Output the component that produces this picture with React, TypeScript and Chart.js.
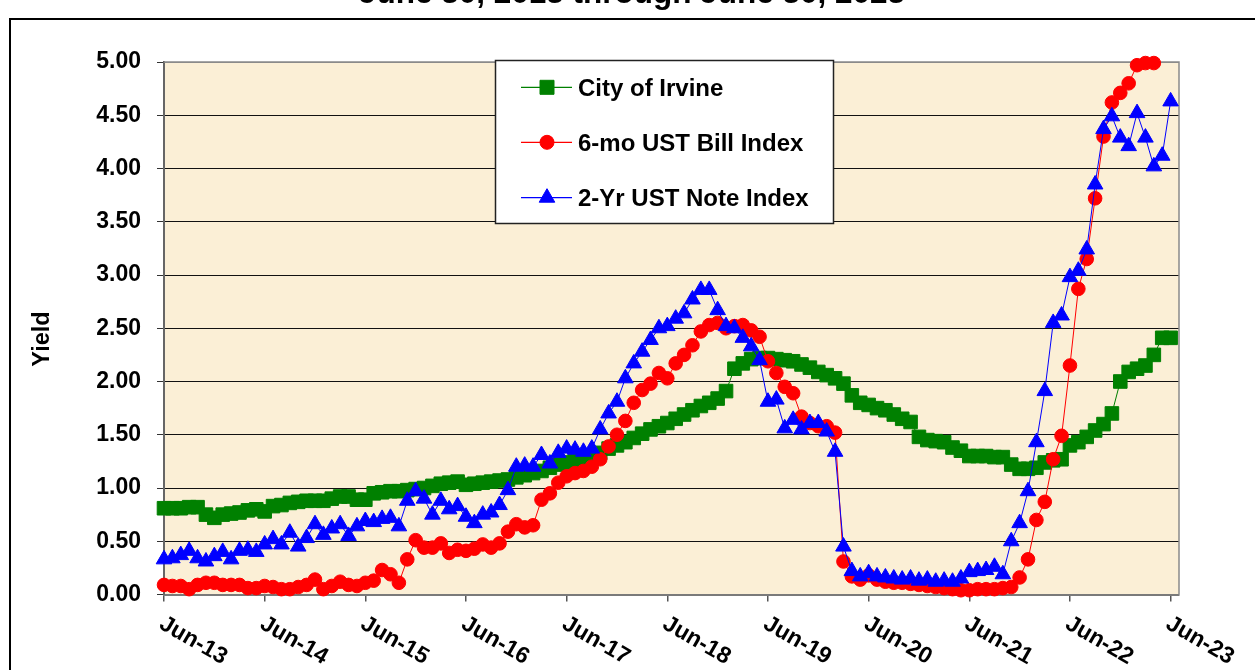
import React, { useEffect, useRef } from 'react';
import { Chart, registerables } from 'chart.js';

Chart.register(...registerables);

const titleText = 'June 30, 2013 through June 30, 2023';
const yAxisTitle = 'Yield';
const seriesNames = ['City of Irvine', '6-mo UST Bill Index', '2-Yr UST Note Index'];
const tickLabels = ['Jun-13', 'Jun-14', 'Jun-15', 'Jun-16', 'Jun-17', 'Jun-18', 'Jun-19', 'Jun-20', 'Jun-21', 'Jun-22', 'Jun-23'];

// monthly values, Jun-13 .. Jun-23 (121 months)
const cityOfIrvine = [
  0.81, 0.81, 0.81, 0.82, 0.82, 0.75, 0.72, 0.75, 0.76, 0.77, 0.79, 0.80,
  0.78, 0.83, 0.84, 0.86, 0.87, 0.88, 0.88, 0.88, 0.90, 0.92, 0.92, 0.89,
  0.89, 0.95, 0.96, 0.97, 0.97, 0.98, 0.99, 1.00, 1.02, 1.04, 1.05, 1.06,
  1.03, 1.04, 1.05, 1.06, 1.07, 1.08, 1.10, 1.12, 1.14, 1.16, 1.19, 1.22,
  1.24, 1.26, 1.28, 1.30, 1.33, 1.37, 1.40, 1.43, 1.47, 1.51, 1.55, 1.58,
  1.61, 1.65, 1.69, 1.73, 1.77, 1.80, 1.84, 1.91, 2.12, 2.17, 2.21, 2.22,
  2.22, 2.21, 2.20, 2.19, 2.16, 2.13, 2.09, 2.06, 2.03, 1.98, 1.87, 1.80,
  1.78, 1.75, 1.73, 1.69, 1.65, 1.62, 1.48, 1.45, 1.44, 1.43, 1.38, 1.35,
  1.30, 1.30, 1.30, 1.29, 1.29, 1.22, 1.18, 1.18, 1.19, 1.24, 1.26, 1.27,
  1.40, 1.43, 1.48, 1.54, 1.60, 1.70, 2.00, 2.09, 2.12, 2.15, 2.25, 2.41,
  2.41,
];

const billIndex6mo = [
  0.09, 0.08, 0.08, 0.05, 0.09, 0.11, 0.11, 0.09, 0.09, 0.09, 0.06, 0.06,
  0.08, 0.07, 0.05, 0.05, 0.07, 0.09, 0.14, 0.05, 0.08, 0.12, 0.09, 0.08,
  0.11, 0.13, 0.23, 0.19, 0.11, 0.33, 0.51, 0.44, 0.44, 0.48, 0.39, 0.42,
  0.41, 0.43, 0.47, 0.44, 0.48, 0.59, 0.66, 0.63, 0.65, 0.89, 0.95, 1.05,
  1.11, 1.14, 1.16, 1.20, 1.27, 1.39, 1.50, 1.63, 1.80, 1.92, 1.98, 2.08,
  2.03, 2.17, 2.25, 2.34, 2.47, 2.53, 2.55, 2.50, 2.52, 2.53, 2.48, 2.42,
  2.19, 2.08, 1.95, 1.89, 1.67, 1.61, 1.58, 1.58, 1.52, 0.31, 0.17, 0.14,
  0.18, 0.14, 0.12, 0.11, 0.11, 0.10, 0.09, 0.08, 0.07, 0.06, 0.05, 0.04,
  0.04, 0.05, 0.05, 0.05, 0.06, 0.07, 0.16, 0.33, 0.70, 0.87, 1.27, 1.49,
  2.15, 2.87, 3.15, 3.72, 4.30, 4.62, 4.71, 4.80, 4.97, 4.99, 4.99, null,
  null,
];

const noteIndex2yr = [
  0.33, 0.34, 0.37, 0.41, 0.34, 0.31, 0.36, 0.40, 0.33, 0.41, 0.42, 0.40,
  0.47, 0.52, 0.47, 0.58, 0.45, 0.53, 0.66, 0.56, 0.62, 0.66, 0.55, 0.64,
  0.69, 0.68, 0.71, 0.72, 0.64, 0.88, 0.97, 0.90, 0.75, 0.88, 0.80, 0.83,
  0.73, 0.67, 0.75, 0.77, 0.84, 0.98, 1.20, 1.21, 1.20, 1.31, 1.23, 1.33,
  1.37, 1.36, 1.34, 1.37, 1.55, 1.70, 1.81, 2.03, 2.17, 2.28, 2.39, 2.50,
  2.52, 2.59, 2.64, 2.77, 2.86, 2.86, 2.67, 2.52, 2.50, 2.41, 2.33, 2.20,
  1.81, 1.83, 1.56, 1.64, 1.55, 1.61, 1.61, 1.53, 1.34, 0.45, 0.22, 0.17,
  0.20, 0.17, 0.16, 0.15, 0.14, 0.15, 0.13, 0.14, 0.12, 0.13, 0.12, 0.15,
  0.21, 0.22, 0.23, 0.26, 0.19, 0.50, 0.67, 0.97, 1.43, 1.91, 2.55, 2.62,
  2.98, 3.04, 3.24, 3.85, 4.37, 4.49, 4.29, 4.21, 4.52, 4.29, 4.02, 4.12,
  4.63,
];

const yMin = 0;
const yMax = 5;
const yStep = 0.5;
const monthsPerTick = 12;
const xMaxIndex = 121;

const FONT = '"Liberation Sans", Arial, Helvetica, sans-serif';
const GREEN = '#008000';
const RED = '#FF0000';
const BLUE = '#0000FF';
const PARCHMENT = '#FBEFD6';

const W = 1255;
const H = 670;
const AREA = { left: 164, top: 62, right: 1179, bottom: 594.5 };

function toPoints(values: (number | null)[]) {
  return values.map((v, i) => ({ x: i, y: v }));
}

function drawMarker(ctx: CanvasRenderingContext2D, kind: string, cx: number, cy: number, color: string) {
  ctx.save();
  ctx.fillStyle = color;
  ctx.strokeStyle = color;
  ctx.lineWidth = 1;
  ctx.beginPath();
  if (kind === 'rect') {
    ctx.rect(cx - 7, cy - 7, 14, 14);
  } else if (kind === 'circle') {
    ctx.arc(cx, cy, 7, 0, Math.PI * 2);
  } else {
    const r = 9;
    ctx.moveTo(cx, cy - r);
    ctx.lineTo(cx + r * 0.866, cy + r / 2);
    ctx.lineTo(cx - r * 0.866, cy + r / 2);
    ctx.closePath();
  }
  ctx.fill();
  ctx.stroke();
  ctx.restore();
}

const decorPlugin = {
  id: 'decor',
  beforeDraw(chart: any) {
    const { ctx, chartArea } = chart;
    ctx.save();
    ctx.fillStyle = PARCHMENT;
    ctx.fillRect(chartArea.left, chartArea.top, chartArea.right - chartArea.left, chartArea.bottom - chartArea.top);
    ctx.restore();
  },
  beforeDatasetsDraw(chart: any) {
    const { ctx, chartArea } = chart;
    ctx.save();
    ctx.strokeStyle = '#8a8a8a';
    ctx.lineWidth = 1.5;
    ctx.beginPath();
    ctx.moveTo(chartArea.left, chartArea.top);
    ctx.lineTo(chartArea.right, chartArea.top);
    ctx.lineTo(chartArea.right, chartArea.bottom);
    ctx.stroke();
    ctx.restore();
  },
  afterDatasetsDraw(chart: any) {
    const { ctx } = chart;
    // legend box
    ctx.save();
    ctx.fillStyle = '#ffffff';
    ctx.fillRect(495, 60, 338, 163);
    ctx.strokeStyle = '#222';
    ctx.lineWidth = 1.5;
    ctx.strokeRect(495.5, 60.5, 338, 163);
    const rows = [87.3, 142.3, 197.7];
    const colors = [GREEN, RED, BLUE];
    const kinds = ['rect', 'circle', 'triangle'];
    rows.forEach((ry, k) => {
      ctx.strokeStyle = colors[k];
      ctx.lineWidth = 1.2;
      ctx.beginPath();
      ctx.moveTo(521, ry);
      ctx.lineTo(572, ry);
      ctx.stroke();
      drawMarker(ctx, kinds[k], 547, ry, colors[k]);
      ctx.fillStyle = '#000';
      ctx.font = `bold 24px ${FONT}`;
      ctx.textAlign = 'left';
      ctx.textBaseline = 'alphabetic';
      ctx.fillText(seriesNames[k], 578, ry + 8.5);
    });
    ctx.restore();
  },
  afterDraw(chart: any) {
    const { ctx } = chart;
    const xs = chart.scales.x;
    ctx.save();
    // rotated x tick labels
    ctx.fillStyle = '#000';
    ctx.font = `bold 23px ${FONT}`;
    ctx.textAlign = 'left';
    ctx.textBaseline = 'alphabetic';
    const ang = (30 * Math.PI) / 180;
    tickLabels.forEach((lab, k) => {
      const px = xs.getPixelForValue(k * monthsPerTick);
      ctx.save();
      ctx.translate(px - 6, xs.top + 33);
      ctx.rotate(ang);
      ctx.fillText(lab, 0, 0);
      ctx.restore();
    });
    // y axis title
    ctx.save();
    ctx.translate(42.5, 339);
    ctx.rotate(-Math.PI / 2);
    ctx.textAlign = 'center';
    ctx.textBaseline = 'middle';
    ctx.font = `bold 23.5px ${FONT}`;
    ctx.fillText(yAxisTitle, 0, 0);
    ctx.restore();
    // chart title (cut off at the top)
    ctx.font = `bold 31.5px ${FONT}`;
    ctx.textAlign = 'center';
    ctx.textBaseline = 'alphabetic';
    ctx.fillText(titleText, 632, 2.5);
    // outer frame
    ctx.strokeStyle = '#000';
    ctx.lineWidth = 2;
    ctx.strokeRect(10, 19, 1400, 900);
    ctx.restore();
  },
};

export default function App() {
  const ref = useRef<HTMLCanvasElement | null>(null);

  useEffect(() => {
    document.body.style.margin = '0';
    const canvas = ref.current;
    if (!canvas) return;
    const chart = new Chart(canvas, {
      type: 'line',
      data: {
        datasets: [
          {
            label: seriesNames[0],
            data: toPoints(cityOfIrvine),
            borderColor: GREEN,
            backgroundColor: GREEN,
            borderWidth: 1,
            pointStyle: 'rect',
            pointRadius: 9.6,
            pointBorderWidth: 1,
            pointBorderColor: GREEN,
            pointBackgroundColor: GREEN,
            tension: 0,
            order: 3,
            clip: false,
          },
          {
            label: seriesNames[1],
            data: toPoints(billIndex6mo),
            borderColor: RED,
            backgroundColor: RED,
            borderWidth: 1,
            pointStyle: 'circle',
            pointRadius: 6.8,
            pointBorderWidth: 1,
            pointBorderColor: RED,
            pointBackgroundColor: RED,
            tension: 0,
            order: 2,
            clip: false,
          },
          {
            label: seriesNames[2],
            data: toPoints(noteIndex2yr),
            borderColor: BLUE,
            backgroundColor: BLUE,
            borderWidth: 1,
            pointStyle: 'triangle',
            pointRadius: 9,
            pointBorderWidth: 1,
            pointBorderColor: BLUE,
            pointBackgroundColor: BLUE,
            tension: 0,
            order: 1,
            clip: false,
          },
        ],
      } as any,
      options: {
        animation: false,
        responsive: false,
        devicePixelRatio: 1,
        events: [],
        layout: { padding: { left: 0, top: AREA.top, right: W - AREA.right, bottom: 0 } },
        plugins: {
          legend: { display: false },
          title: { display: false },
          tooltip: { enabled: false },
        },
        scales: {
          x: {
            type: 'linear',
            min: 0,
            max: xMaxIndex,
            afterBuildTicks: (scale: any) => {
              scale.ticks = tickLabels.map((_, k) => ({ value: k * monthsPerTick }));
            },
            afterFit: (scale: any) => {
              scale.height = H - AREA.bottom;
            },
            ticks: { display: false },
            grid: {
              drawOnChartArea: false,
              drawTicks: true,
              tickLength: 7,
              color: '#555',
              lineWidth: 1.5,
            },
            border: { display: true, color: '#7a7a7a', width: 2 },
          },
          y: {
            type: 'linear',
            min: yMin,
            max: yMax,
            afterFit: (scale: any) => {
              scale.width = AREA.left;
            },
            ticks: {
              stepSize: yStep,
              maxTicksLimit: 20,
              padding: 16,
              color: '#000',
              font: { family: FONT, size: 23, weight: 'bold' },
              callback: (v: any) => Number(v).toFixed(2),
            },
            grid: {
              color: (c: any) => (c.tick && c.tick.value === yMax ? '#8a8a8a' : '#111'),
              lineWidth: 1,
              tickLength: 7,
              tickColor: '#333',
            },
            border: { display: true, color: '#666', width: 2 },
          },
        },
      } as any,
      plugins: [decorPlugin],
    });
    return () => chart.destroy();
  }, []);

  return (
    <div style={{ position: 'absolute', left: 0, top: 0, width: W, height: H, overflow: 'hidden', background: '#fff' }}>
      <canvas ref={ref} width={W} height={H} style={{ width: W, height: H, display: 'block' }} />
    </div>
  );
}
